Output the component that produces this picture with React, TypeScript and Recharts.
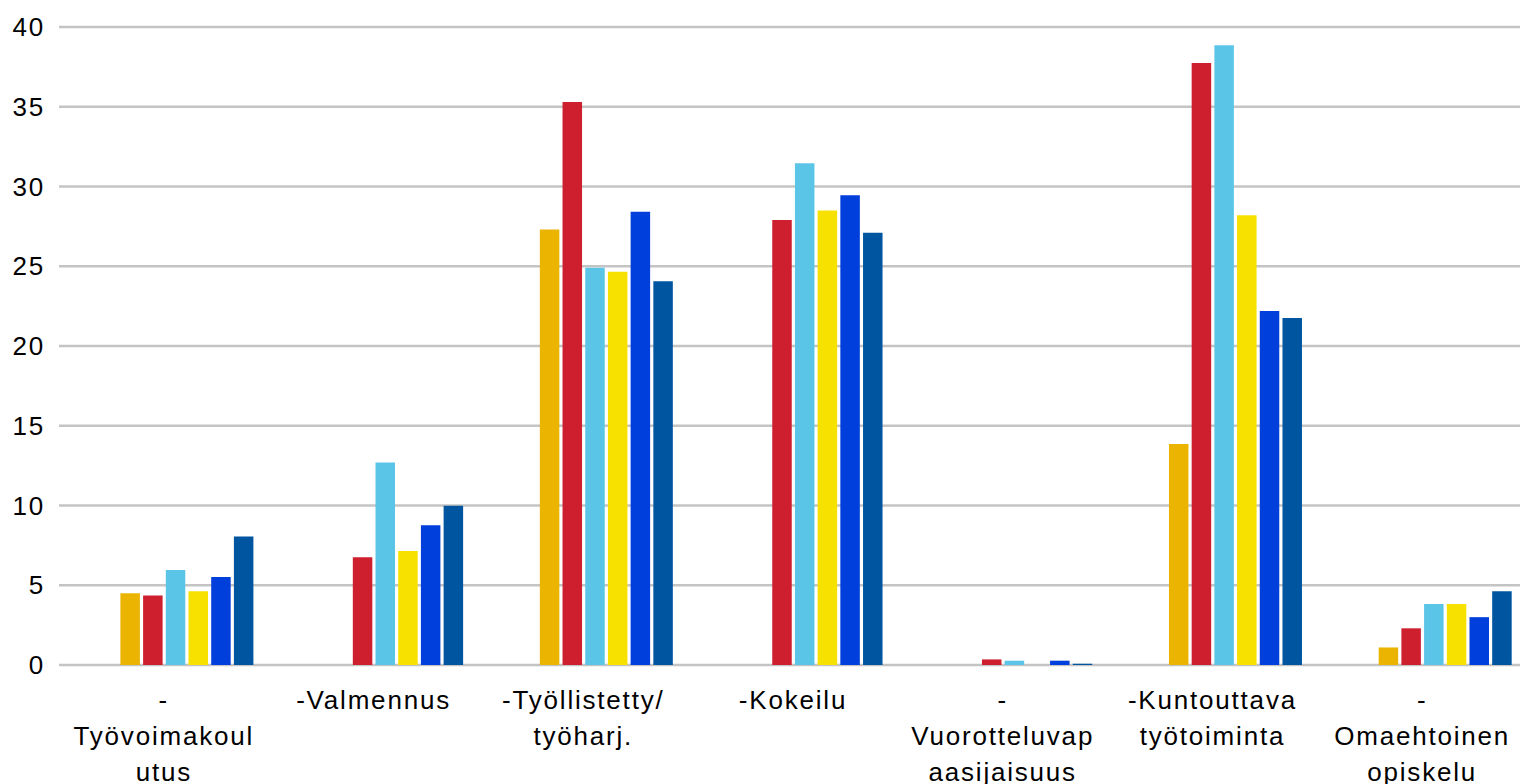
import { BarChart, Bar, XAxis, YAxis, CartesianGrid } from 'recharts';

const categories = [
    '-\nTyövoimakoul\nutus',
    '-Valmennus',
    '-Työllistetty/\ntyöharj.',
    '-Kokeilu',
    '-\nVuorotteluvap\naasijaisuus',
    '-Kuntouttava\ntyötoiminta',
    '-\nOmaehtoinen\nopiskelu'
];

// two leading series have no values (their slots stay empty)
const s0a = [null, null, null, null, null, null, null];
const s0b = [null, null, null, null, null, null, null];
const s1 = [4.5, null, 27.3, null, null, 13.85, 1.1];
const s2 = [4.35, 6.75, 35.3, 27.9, 0.35, 37.75, 2.3];
const s3 = [5.95, 12.7, 24.9, 31.45, 0.27, 38.85, 3.82];
const s4 = [4.62, 7.15, 24.65, 28.5, null, 28.2, 3.82];
const s5 = [5.52, 8.76, 28.42, 29.45, 0.27, 22.2, 3.0];
const s6 = [8.05, 9.99, 24.06, 27.1, 0.08, 21.75, 4.62];

const yTicks = [0, 5, 10, 15, 20, 25, 30, 35, 40];

const seriesKeys = ['s0a', 's0b', 's1', 's2', 's3', 's4', 's5', 's6'];
const colors = ['#FFFFFF', '#FFFFFF', '#EBB400', '#CE1F2E', '#5BC5E8', '#F7E100', '#003FDB', '#0055A0'];

const data = categories.map((name, i) => ({
    name,
    s0a: s0a[i],
    s0b: s0b[i],
    s1: s1[i],
    s2: s2[i],
    s3: s3[i],
    s4: s4[i],
    s5: s5[i],
    s6: s6[i]
}));

const font = 'Liberation Sans, Arial, sans-serif';

const CategoryTick = (props: any) => {
    const { x, y, payload } = props;
    const lines = String(payload.value).split('\n');
    return (
        <text x={x} y={y} textAnchor='middle' fill='#000' fontSize={26} letterSpacing={1.8} fontFamily={font}>
            {lines.map((line, i) => (
                <tspan key={i} x={x} dy={i === 0 ? 42 : 36}>{line}</tspan>
            ))}
        </text>
    );
};

const App = () => {
    return (
        <div style={{ position: 'absolute', left: 0, top: 0, background: '#fff' }}>
            <BarChart
                width={1520}
                height={784}
                data={data}
                margin={{ top: 27, right: -7, left: 0, bottom: 0 }}
                barSize={19.5}
                barGap={3.2}
            >
                <CartesianGrid vertical={false} stroke='#C4C4C4' strokeWidth={2.5} />
                <YAxis
                    domain={[0, 40]}
                    ticks={yTicks}
                    width={59}
                    axisLine={false}
                    tickLine={false}
                    tickSize={0}
                    tickMargin={14}
                    tick={{ fill: '#000', fontSize: 26, letterSpacing: 1.8, fontFamily: font }}
                />
                <XAxis
                    dataKey='name'
                    height={119}
                    axisLine={false}
                    tickLine={false}
                    tickSize={0}
                    interval={0}
                    tick={<CategoryTick />}
                />
                {seriesKeys.map((k, i) => (
                    <Bar key={k} dataKey={k} fill={colors[i]} isAnimationActive={false} />
                ))}
            </BarChart>
        </div>
    );
};

export default App;
